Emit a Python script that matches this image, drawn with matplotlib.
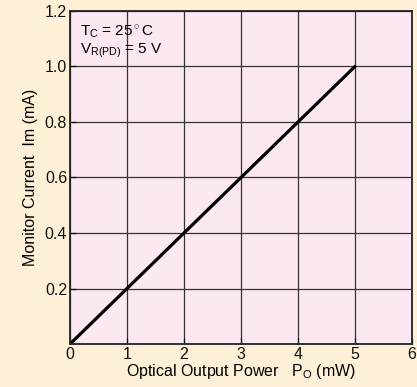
import numpy as np
import matplotlib
matplotlib.use('Agg')
import matplotlib.pyplot as plt

plt.rcParams['font.family'] = ['Liberation Sans', 'DejaVu Sans']
plt.rcParams['mathtext.fontset'] = 'custom'
plt.rcParams['mathtext.rm'] = 'Liberation Sans'
plt.rcParams['mathtext.it'] = 'Liberation Sans'

# dados
power_mw = [0, 5]
current_ma = [0, 1.0]
x_ticks = [0, 1, 2, 3, 4, 5, 6]
y_ticks = [0.2, 0.4, 0.6, 0.8, 1.0, 1.2]
y_labels = ['0.2', '0.4', '0.6', '0.8', '1.0', '1.2']

fig = plt.figure(figsize=(4.17, 3.87), dpi=100, facecolor='#fdf0d6')
ax = fig.add_axes([0.1679, 0.1111, 0.820, 0.8605])
ax.set_facecolor('#fce8f2')

ax.plot(power_mw, current_ma, color='black', linewidth=2.3, solid_capstyle='round')

ax.set_xlim(0, 6)
ax.set_ylim(0, 1.2)
ax.set_xticks(x_ticks)
ax.set_yticks(y_ticks)
ax.set_yticklabels(y_labels)
ax.grid(True, color='#333333', linewidth=0.9)
ax.tick_params(direction='in', length=4, width=0.9, labelsize=11.5, pad=2, colors='#111111')
for s in ax.spines.values():
    s.set_color('#222222')
    s.set_linewidth(1.3)

ax.set_xlabel(r'Optical Output Power   $\mathrm{P_O}$ (mW)', fontsize=11.5, labelpad=0)
ax.set_ylabel('Monitor Current  Im (mA)', fontsize=11.5, labelpad=5)

ax.text(0.175, 1.11, r'$\mathrm{T_C}$ = 25$^\circ$C', fontsize=11, va='baseline')
ax.text(0.175, 1.045, r'$\mathrm{V_{R(PD)}}$ = 5 V', fontsize=11, va='baseline')

plt.savefig('out.png', dpi=100, facecolor=fig.get_facecolor())
